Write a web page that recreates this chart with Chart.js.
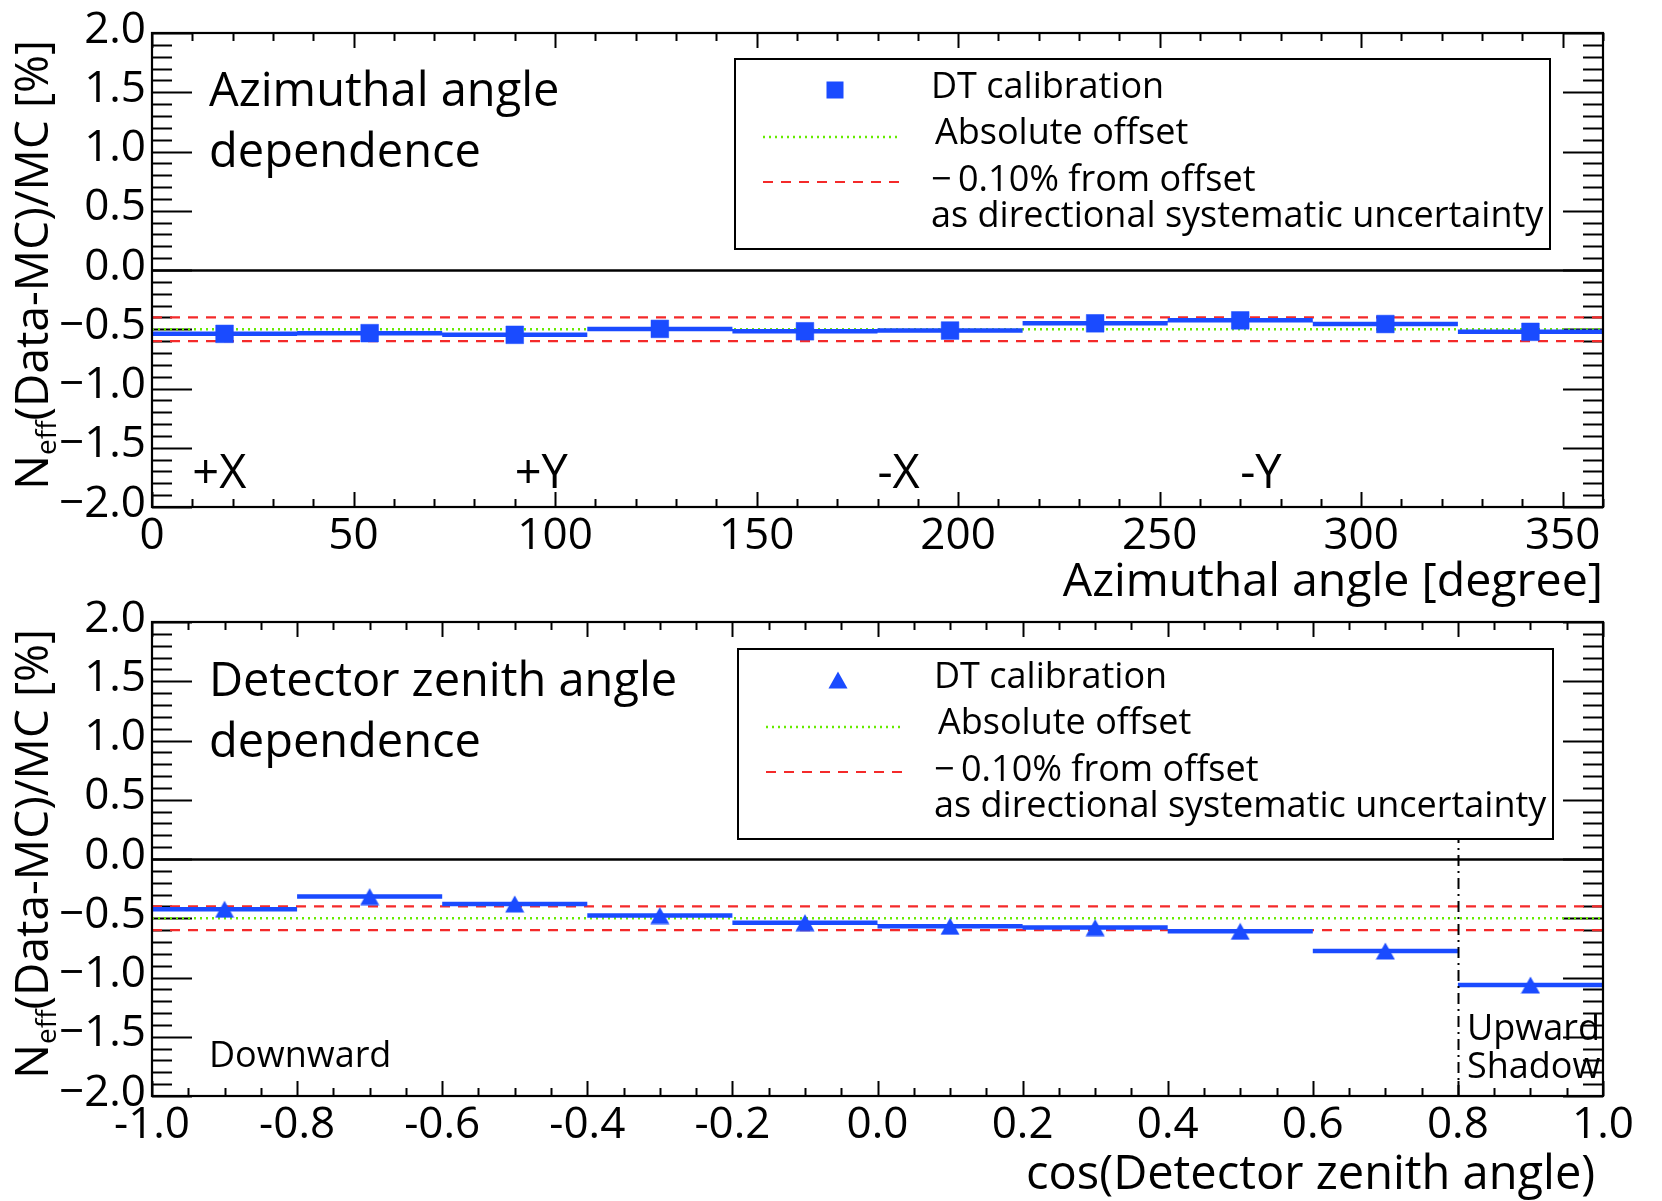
<!DOCTYPE html>
<html>
<head>
<meta charset="utf-8">
<script src="https://cdn.jsdelivr.net/npm/chart.js@4/dist/chart.umd.min.js"></script>
<style>
html,body{margin:0;padding:0;background:#fff;width:1662px;height:1201px;overflow:hidden;}
canvas{position:absolute;left:0;}
#c1{top:0;}
#c2{top:585px;}
</style>
</head>
<body>
<canvas id="c1" width="1662" height="615" style="width:1662px;height:615px"></canvas>
<canvas id="c2" width="1662" height="616" style="width:1662px;height:616px"></canvas>
<script>
// ---------------- data ----------------
const azimuthBinEdges = [0, 36, 72, 108, 144, 180, 216, 252, 288, 324, 360];
const azimuthValues   = [-0.539, -0.533, -0.547, -0.497, -0.517, -0.511, -0.450, -0.425, -0.456, -0.522];
const cosZenithBinEdges = [-1.0, -0.8, -0.6, -0.4, -0.2, 0.0, 0.2, 0.4, 0.6, 0.8, 1.0];
const cosZenithValues   = [-0.424, -0.317, -0.379, -0.477, -0.537, -0.568, -0.579, -0.610, -0.776, -1.063];
const absoluteOffset = [-0.50];
const systematicBand = [-0.40, -0.60];
const shadowBoundary = [0.8];
const yTickValues = [-2.0, -1.5, -1.0, -0.5, 0.0, 0.5, 1.0, 1.5, 2.0];
const yTickLabels = ['\u22122.0', '\u22121.5', '\u22121.0', '\u22120.5', '0.0', '0.5', '1.0', '1.5', '2.0'];
const azimuthTickValues = [0, 50, 100, 150, 200, 250, 300, 350];
const azimuthTickLabels = ['0', '50', '100', '150', '200', '250', '300', '350'];
const cosTickValues = [-1.0, -0.8, -0.6, -0.4, -0.2, 0.0, 0.2, 0.4, 0.6, 0.8, 1.0];
const cosTickLabels = ['-1.0', '-0.8', '-0.6', '-0.4', '-0.2', '0.0', '0.2', '0.4', '0.6', '0.8', '1.0'];
const directionLabels = ['+X', '+Y', '-X', '-Y'];
const directionAngles = [10, 90, 180, 270];

// ---------------- style ----------------
const FONT = "'Open Sans', sans-serif";
const BLUE = '#1a4bff', GREEN = '#66ea00', RED = '#f42a2a';

// centred triangle marker (ROOT style: box centred on the point)
const triMarker = (() => {
  const c = document.createElement('canvas'); c.width = 20; c.height = 18;
  const g = c.getContext('2d'); g.fillStyle = BLUE;
  g.beginPath(); g.moveTo(10, 0.5); g.lineTo(19.5, 17.5); g.lineTo(0.5, 17.5); g.closePath(); g.fill();
  return c;
})();

function binSegments(edges, vals) {
  const d = [];
  vals.forEach((v, i) => { d.push({x: edges[i], y: v}, {x: edges[i + 1], y: v}, {x: edges[i + 1], y: null}); });
  return d;
}
function binCenters(edges, vals) {
  return vals.map((v, i) => ({x: (edges[i] + edges[i + 1]) / 2, y: v}));
}
function hLine(edges, v) {
  return [{x: edges[0], y: v}, {x: edges[edges.length - 1], y: v}];
}
function makeDatasets(edges, vals, pointStyle, radius) {
  return [
    {label: 'DT calibration', data: binCenters(edges, vals), pointStyle: pointStyle, pointRadius: radius,
     pointBackgroundColor: BLUE, pointBorderColor: BLUE, pointBorderWidth: 0.5, showLine: false, order: 0},
    {label: 'bins', data: binSegments(edges, vals), showLine: true, borderColor: BLUE, borderWidth: 4.5,
     pointRadius: 0, spanGaps: false, borderCapStyle: 'butt', order: 1},
    {label: 'Absolute offset', data: hLine(edges, absoluteOffset[0]), showLine: true, borderColor: GREEN,
     borderWidth: 2.4, borderDash: [2, 4], pointRadius: 0, order: 2},
    {label: 'upper', data: hLine(edges, systematicBand[0]), showLine: true, borderColor: RED,
     borderWidth: 2.2, borderDash: [10, 8], pointRadius: 0, order: 3},
    {label: 'lower', data: hLine(edges, systematicBand[1]), showLine: true, borderColor: RED,
     borderWidth: 2.2, borderDash: [10, 8], pointRadius: 0, order: 3}
  ];
}

function seq(min, max, step) {
  const out = []; const n = Math.round((max - min) / step);
  for (let i = 0; i <= n; i++) out.push(min + i * step);
  return out;
}
function isMajor(v, major) { const r = v / major; return Math.abs(r - Math.round(r)) < 1e-6; }
function seg(ctx, x1, y1, x2, y2) { ctx.beginPath(); ctx.moveTo(x1, y1); ctx.lineTo(x2, y2); ctx.stroke(); }

function drawYTitle(ctx, xBase, yEnd, size) {
  const rest = '(Data-MC)/MC [%]';
  ctx.save();
  ctx.translate(xBase, yEnd);
  ctx.rotate(-Math.PI / 2);
  ctx.fillStyle = '#000'; ctx.textBaseline = 'alphabetic'; ctx.textAlign = 'left';
  const big = size + 'px ' + FONT, small = Math.round(size * 0.6) + 'px ' + FONT;
  ctx.font = big; const wN = ctx.measureText('N').width; const wR = ctx.measureText(rest).width;
  ctx.font = small; const wS = ctx.measureText('eff').width;
  const x0 = -(wN + wS + wR);
  ctx.font = big; ctx.fillText('N', x0, 0);
  ctx.font = small; ctx.fillText('eff', x0 + wN, size * 0.17);
  ctx.font = big; ctx.fillText(rest, x0 + wN + wS, 0);
  ctx.restore();
}

function drawLegend(ctx, dx, dy, marker) {
  ctx.save();
  ctx.fillStyle = '#fff'; ctx.fillRect(735 + dx, 59 + dy, 815, 190);
  ctx.strokeStyle = '#000'; ctx.lineWidth = 2; ctx.strokeRect(735 + dx, 59 + dy, 815, 190);
  ctx.fillStyle = BLUE;
  const mx = 835 + dx, my = 90 + dy;
  if (marker === 'rect') {
    ctx.fillRect(mx - 8.5, my - 8.5, 17, 17);
  } else {
    ctx.drawImage(triMarker, mx - 10, my - 9);
  }
  ctx.lineWidth = 2.4; ctx.strokeStyle = GREEN; ctx.setLineDash([2, 4]);
  seg(ctx, 763 + dx, 137 + dy, 899 + dx, 137 + dy);
  ctx.lineWidth = 2.2; ctx.strokeStyle = RED; ctx.setLineDash([10, 8]);
  seg(ctx, 763 + dx, 182 + dy, 899 + dx, 182 + dy);
  ctx.setLineDash([]);
  ctx.fillStyle = '#000'; ctx.font = '36px ' + FONT; ctx.textBaseline = 'alphabetic'; ctx.textAlign = 'left';
  ctx.fillText('DT calibration', 931 + dx, 98 + dy);
  ctx.fillText('Absolute offset', 935 + dx, 144 + dy);
  ctx.fillText('\u2212', 931 + dx, 191 + dy);
  ctx.fillText('0.10% from offset', 958 + dx, 191 + dy);
  ctx.fillText('as directional systematic uncertainty', 931 + dx, 227 + dy);
  ctx.restore();
}

const rootDecor = {
  id: 'rootDecor',
  beforeDatasetsDraw(chart, args, o) {
    const {ctx, chartArea: a, scales: {x, y}} = chart;
    ctx.save();
    ctx.strokeStyle = '#000'; ctx.lineWidth = 2;
    for (const v of seq(y.min, y.max, o.yMinor)) {
      const p = Math.round(y.getPixelForValue(v)) + 0.5;
      const L = isMajor(v - y.min, o.yMajor) ? 40 : 20;
      seg(ctx, a.left, p, a.left + L, p);
      seg(ctx, a.right, p, a.right - L, p);
    }
    for (const v of seq(x.min, x.max, o.xMinor)) {
      const p = Math.round(x.getPixelForValue(v)) + 0.5;
      const L = isMajor(v - x.min, o.xMajor) ? 15 : 8;
      seg(ctx, p, a.bottom, p, a.bottom - L);
      seg(ctx, p, a.top, p, a.top + L);
    }
    const z = Math.round(y.getPixelForValue(0)) + 0.5;
    ctx.lineWidth = 2.4;
    seg(ctx, a.left, z, a.right, z);
    ctx.restore();
  },
  afterDatasetsDraw(chart, args, o) {
    const {ctx, chartArea: a, scales: {x, y}} = chart;
    ctx.save();
    if (o.shadow) {
      const p = Math.round(x.getPixelForValue(shadowBoundary[0])) + 0.5;
      ctx.strokeStyle = '#000'; ctx.lineWidth = 2; ctx.setLineDash([11, 5, 2, 5]);
      seg(ctx, p, a.bottom, p, 252);
      ctx.setLineDash([]);
    }
    ctx.strokeStyle = '#000'; ctx.lineWidth = 2.2;
    ctx.strokeRect(a.left, a.top, a.right - a.left, a.bottom - a.top);
    drawLegend(ctx, o.legendDx, o.legendDy, o.marker);
    ctx.fillStyle = '#000'; ctx.textBaseline = 'alphabetic'; ctx.textAlign = 'left';
    for (const t of o.texts) {
      ctx.font = t.size + 'px ' + FONT;
      ctx.fillText(t.text, t.x, t.y);
    }
    if (o.directions) {
      ctx.font = '47px ' + FONT;
      directionLabels.forEach((lab, i) => ctx.fillText(lab, x.getPixelForValue(directionAngles[i]), 488));
    }
    drawYTitle(ctx, 48, a.top + 7, 46);
    ctx.restore();
  }
};

function makeChart(id, cfg) {
  const tickFont = {family: FONT, size: 44};
  return new Chart(document.getElementById(id), {
    type: 'scatter',
    data: {datasets: makeDatasets(cfg.edges, cfg.values, cfg.marker, cfg.radius)},
    plugins: [rootDecor],
    options: {
      responsive: false, animation: false, events: [],
      layout: {padding: {top: cfg.top, right: 59, left: 0, bottom: 0}},
      plugins: {
        legend: {display: false}, tooltip: {enabled: false},
        rootDecor: cfg.decor
      },
      scales: {
        x: {
          type: 'linear', position: 'bottom', min: cfg.xMin, max: cfg.xMax,
          afterBuildTicks: s => { s.ticks = cfg.xTicks.map(v => ({value: v})); },
          afterFit: s => { s.height = cfg.xHeight; },
          ticks: {autoSkip: false, maxRotation: 0, padding: 3, color: '#000', font: tickFont,
                  callback: (v, i) => cfg.xLabels[i]},
          grid: {display: false, drawTicks: false}, border: {display: false},
          title: {display: true, text: cfg.xTitle, align: 'end', color: '#000',
                  font: {family: FONT, size: cfg.xTitleSize}, padding: {top: 0, bottom: cfg.titlePad}}
        },
        y: {
          type: 'linear', position: 'left', min: -2, max: 2,
          afterBuildTicks: s => { s.ticks = yTickValues.map(v => ({value: v})); },
          afterFit: s => { s.width = 152; },
          ticks: {autoSkip: false, padding: 6, labelOffset: -3, color: '#000', font: tickFont,
                  callback: (v, i) => yTickLabels[i]},
          grid: {display: false, drawTicks: false}, border: {display: false}
        }
      }
    }
  });
}

makeChart('c1', {
  edges: azimuthBinEdges, values: azimuthValues, marker: 'rect', radius: 12.5,
  top: 33, xHeight: 108, titlePad: 4.5, xTitleSize: 46.5, xMin: 0, xMax: 360,
  xTicks: azimuthTickValues, xLabels: azimuthTickLabels,
  xTitle: 'Azimuthal angle [degree]',
  decor: {
    yMinor: 0.1, yMajor: 0.5, xMinor: 10, xMajor: 50,
    legendDx: 0, legendDy: 0, marker: 'rect', shadow: false, directions: true,
    texts: [
      {text: 'Azimuthal angle', x: 209, y: 106, size: 47},
      {text: 'dependence', x: 209, y: 167, size: 47}
    ]
  }
});

makeChart('c2', {
  edges: cosZenithBinEdges, values: cosZenithValues, marker: triMarker, radius: 10,
  top: 37, xHeight: 105, titlePad: -2.5, xTitleSize: 47, xMin: -1, xMax: 1,
  xTicks: cosTickValues, xLabels: cosTickLabels,
  xTitle: 'cos(Detector zenith angle)\u2009',
  decor: {
    yMinor: 0.1, yMajor: 0.5, xMinor: 0.05, xMajor: 0.2,
    legendDx: 3, legendDy: 5, marker: 'triangle', shadow: true, directions: false,
    texts: [
      {text: 'Detector zenith angle', x: 209, y: 111, size: 47},
      {text: 'dependence', x: 209, y: 172, size: 47},
      {text: 'Downward', x: 209, y: 482, size: 36},
      {text: 'Upward', x: 1467, y: 455, size: 36},
      {text: 'Shadow', x: 1467, y: 493, size: 36}
    ]
  }
});
</script>
</body>
</html>
